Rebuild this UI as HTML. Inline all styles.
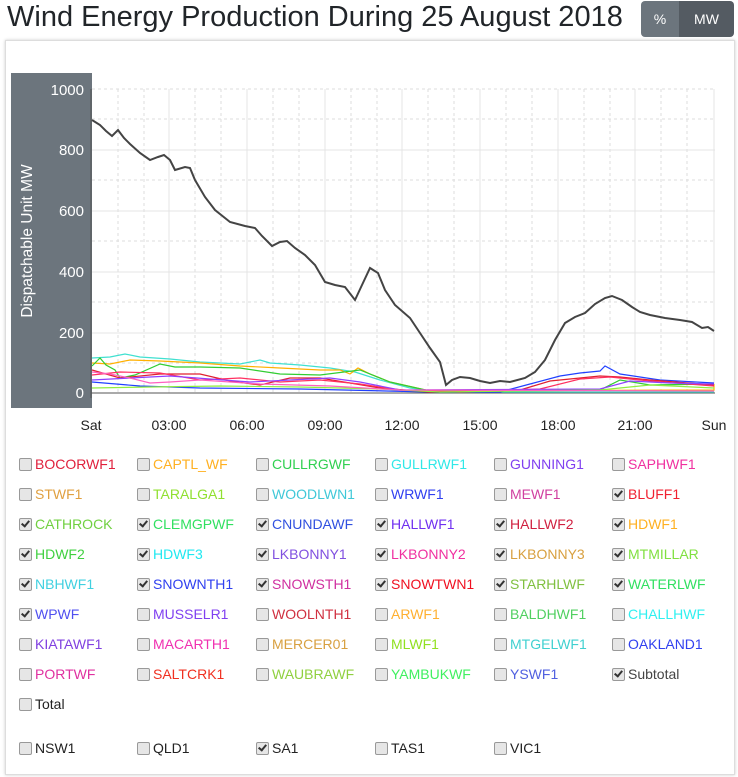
<!DOCTYPE html>
<html><head><meta charset="utf-8"><style>
body{margin:0;width:738px;height:777px;background:#fff;font-family:"Liberation Sans",sans-serif;position:relative;overflow:hidden}
h1{position:absolute;left:7px;top:1px;margin:0;font-size:29px;font-weight:normal;color:#212529;letter-spacing:0px}
.btn{position:absolute;top:1px;height:36px;line-height:36px;color:#fff;font-size:14px;text-align:center}
.card{position:absolute;left:5px;top:40px;width:728px;height:733px;border:1px solid #ddd;box-shadow:0 0 3px #ccc}
.it{position:absolute;font-size:14px;white-space:nowrap}
.cb{position:absolute;left:0;top:2px;width:11px;height:11px;border:1px solid #999;border-radius:2px;background:#e6e6e6}
.cb.c::after{content:"";position:absolute;left:3px;top:0px;width:3px;height:6px;border:solid #333;border-width:0 2px 2px 0;transform:rotate(40deg)}
.it span{position:absolute;left:16px;top:0}
</style></head><body>
<h1>Wind Energy Production During 25 August 2018</h1>
<div class="btn" style="left:641px;width:38px;background:#6c757d;border-radius:4px 0 0 4px">%</div>
<div class="btn" style="left:679px;width:55px;background:#545b62;border-radius:0 4px 4px 0">MW</div>
<div class="card"></div>
<svg style="position:absolute;left:0;top:0" width="738" height="440">
<rect x="11" y="73" width="81" height="335" fill="#6c757d"/>
<text transform="translate(32,241) rotate(-90)" text-anchor="middle" font-size="15.5" fill="#fff" font-family="Liberation Sans">Dispatchable Unit MW</text>
<g font-size="15" fill="#fff" text-anchor="end" font-family="Liberation Sans">
<text x="84" y="95">1000</text><text x="84" y="155">800</text><text x="84" y="216">600</text><text x="84" y="277">400</text><text x="84" y="338">200</text><text x="84" y="398">0</text></g>
<g stroke="#ddd" stroke-dasharray="3,3">
<line x1="92" x2="715" y1="89" y2="89"/><line x1="92" x2="715" y1="119" y2="119"/><line x1="92" x2="715" y1="180" y2="180"/><line x1="92" x2="715" y1="241" y2="241"/><line x1="92" x2="715" y1="302" y2="302"/><line x1="92" x2="715" y1="363" y2="363"/>
<line x1="118" x2="118" y1="89" y2="393"/><line x1="144" x2="144" y1="89" y2="393"/><line x1="195" x2="195" y1="89" y2="393"/><line x1="221" x2="221" y1="89" y2="393"/><line x1="273" x2="273" y1="89" y2="393"/><line x1="299" x2="299" y1="89" y2="393"/><line x1="351" x2="351" y1="89" y2="393"/><line x1="377" x2="377" y1="89" y2="393"/><line x1="428" x2="428" y1="89" y2="393"/><line x1="454" x2="454" y1="89" y2="393"/><line x1="506" x2="506" y1="89" y2="393"/><line x1="532" x2="532" y1="89" y2="393"/><line x1="584" x2="584" y1="89" y2="393"/><line x1="610" x2="610" y1="89" y2="393"/><line x1="661" x2="661" y1="89" y2="393"/><line x1="687" x2="687" y1="89" y2="393"/></g>
<g stroke="#e4e4e4">
<line x1="92" x2="715" y1="150" y2="150"/><line x1="92" x2="715" y1="211" y2="211"/><line x1="92" x2="715" y1="272" y2="272"/><line x1="92" x2="715" y1="333" y2="333"/>
<line x1="169" x2="169" y1="89" y2="393"/><line x1="247" x2="247" y1="89" y2="393"/><line x1="325" x2="325" y1="89" y2="393"/><line x1="402" x2="402" y1="89" y2="393"/><line x1="480" x2="480" y1="89" y2="393"/><line x1="558" x2="558" y1="89" y2="393"/><line x1="635" x2="635" y1="89" y2="393"/><line x1="714" x2="714" y1="89" y2="393"/></g>
<line x1="91" x2="91" y1="89" y2="398" stroke="#555"/><line x1="91" x2="715" y1="393" y2="393" stroke="#555"/>
<g fill="none" stroke-width="1.2">
<polyline stroke="#40e0d0" points="92,358 110,357 125,354 140,357 170,359 200,362 240,364 260,360 270,363 300,365 330,368 355,372 380,380 410,388 440,392 714,392"/>
<polyline stroke="#ffb000" points="92,363 110,364 130,360 160,361 200,363 240,366 280,368 320,370 340,370 350,374 358,368 370,374 390,382 430,391 714,390 714,384"/>
<polyline stroke="#32cd32" points="92,366 100,358 106,365 115,370 120,378 135,375 160,364 175,367 200,367 240,368 280,374 320,375 360,370 390,382 430,391 600,390 620,380 650,385 714,384"/>
<polyline stroke="#2040ff" points="92,382 140,386 200,388 300,389 430,392 500,392 530,384 560,376 580,373 600,371 605,366 620,374 660,380 714,383"/>
<polyline stroke="#e02030" points="92,370 120,378 160,374 200,374 230,381 260,385 290,378 320,378 350,383 380,388 430,392 520,390 550,381 580,378 600,376 620,377 650,380 714,385"/>
<polyline stroke="#ff3060" points="92,375 120,372 160,373 200,380 240,378 280,382 320,380 360,384 400,390 460,392 540,389 580,379 610,377 650,381 714,386"/>
<polyline stroke="#9040ff" points="92,380 130,378 170,376 210,379 250,382 290,380 330,378 360,382 400,390 600,389 630,381 670,383 714,384"/>
<polyline stroke="#90ee40" points="92,388 150,387 220,386 300,387 380,389 440,392 600,390 650,385 714,388"/>
<polyline stroke="#ff60c0" points="92,372 110,374 130,378 150,383 170,382 200,380 260,384 330,386 400,390 714,391"/>
</g>
<polyline fill="none" stroke="#444" stroke-width="2" points="92,120 100,125 106,131 112,136 118,130 124,138 130,144 140,153 150,160 158,157 164,155 170,160 175,170 185,167 190,168 195,180 205,197 215,210 230,222 245,226 255,228 262,236 272,246 280,242 287,241 295,248 305,255 315,265 325,282 335,285 345,287 355,300 362,285 370,268 378,273 385,290 395,305 410,318 420,333 430,348 440,362 446,385 452,380 460,377 470,378 480,381 490,383 500,381 510,382 525,378 535,372 545,360 555,340 565,323 575,317 585,313 595,304 605,298 612,296 622,300 632,307 640,312 650,315 665,318 680,320 692,322 702,328 708,327 714,331"/>
<g font-size="14" fill="#222" text-anchor="middle" font-family="Liberation Sans">
<text x="91" y="430">Sat</text><text x="169" y="430">03:00</text><text x="247" y="430">06:00</text><text x="325" y="430">09:00</text><text x="402" y="430">12:00</text><text x="480" y="430">15:00</text><text x="558" y="430">18:00</text><text x="635" y="430">21:00</text><text x="714" y="430">Sun</text></g>
</svg>
<div class="it" style="left:19px;top:456px"><div class="cb"></div><span style="color:#e0203c">BOCORWF1</span></div>
<div class="it" style="left:137px;top:456px"><div class="cb"></div><span style="color:#ffb020">CAPTL_WF</span></div>
<div class="it" style="left:256px;top:456px"><div class="cb"></div><span style="color:#30d050">CULLRGWF</span></div>
<div class="it" style="left:375px;top:456px"><div class="cb"></div><span style="color:#30e8e8">GULLRWF1</span></div>
<div class="it" style="left:494px;top:456px"><div class="cb"></div><span style="color:#8040f0">GUNNING1</span></div>
<div class="it" style="left:612px;top:456px"><div class="cb"></div><span style="color:#f030a0">SAPHWF1</span></div>
<div class="it" style="left:19px;top:486px"><div class="cb"></div><span style="color:#e0a040">STWF1</span></div>
<div class="it" style="left:137px;top:486px"><div class="cb"></div><span style="color:#90e030">TARALGA1</span></div>
<div class="it" style="left:256px;top:486px"><div class="cb"></div><span style="color:#40c8d8">WOODLWN1</span></div>
<div class="it" style="left:375px;top:486px"><div class="cb"></div><span style="color:#3040f0">WRWF1</span></div>
<div class="it" style="left:494px;top:486px"><div class="cb"></div><span style="color:#d040a0">MEWF1</span></div>
<div class="it" style="left:612px;top:486px"><div class="cb c"></div><span style="color:#f02030">BLUFF1</span></div>
<div class="it" style="left:19px;top:516px"><div class="cb c"></div><span style="color:#70d040">CATHROCK</span></div>
<div class="it" style="left:137px;top:516px"><div class="cb c"></div><span style="color:#30e060">CLEMGPWF</span></div>
<div class="it" style="left:256px;top:516px"><div class="cb c"></div><span style="color:#3050e0">CNUNDAWF</span></div>
<div class="it" style="left:375px;top:516px"><div class="cb c"></div><span style="color:#7030f0">HALLWF1</span></div>
<div class="it" style="left:494px;top:516px"><div class="cb c"></div><span style="color:#d02040">HALLWF2</span></div>
<div class="it" style="left:612px;top:516px"><div class="cb c"></div><span style="color:#ffb020">HDWF1</span></div>
<div class="it" style="left:19px;top:546px"><div class="cb c"></div><span style="color:#40d040">HDWF2</span></div>
<div class="it" style="left:137px;top:546px"><div class="cb c"></div><span style="color:#20e8f0">HDWF3</span></div>
<div class="it" style="left:256px;top:546px"><div class="cb c"></div><span style="color:#8050e0">LKBONNY1</span></div>
<div class="it" style="left:375px;top:546px"><div class="cb c"></div><span style="color:#f030a0">LKBONNY2</span></div>
<div class="it" style="left:494px;top:546px"><div class="cb c"></div><span style="color:#d8a040">LKBONNY3</span></div>
<div class="it" style="left:612px;top:546px"><div class="cb c"></div><span style="color:#80e040">MTMILLAR</span></div>
<div class="it" style="left:19px;top:576px"><div class="cb c"></div><span style="color:#40d0e0">NBHWF1</span></div>
<div class="it" style="left:137px;top:576px"><div class="cb c"></div><span style="color:#3040f0">SNOWNTH1</span></div>
<div class="it" style="left:256px;top:576px"><div class="cb c"></div><span style="color:#d030a0">SNOWSTH1</span></div>
<div class="it" style="left:375px;top:576px"><div class="cb c"></div><span style="color:#f01020">SNOWTWN1</span></div>
<div class="it" style="left:494px;top:576px"><div class="cb c"></div><span style="color:#80c040">STARHLWF</span></div>
<div class="it" style="left:612px;top:576px"><div class="cb c"></div><span style="color:#30e060">WATERLWF</span></div>
<div class="it" style="left:19px;top:606px"><div class="cb c"></div><span style="color:#5050f0">WPWF</span></div>
<div class="it" style="left:137px;top:606px"><div class="cb"></div><span style="color:#8040f0">MUSSELR1</span></div>
<div class="it" style="left:256px;top:606px"><div class="cb"></div><span style="color:#d03040">WOOLNTH1</span></div>
<div class="it" style="left:375px;top:606px"><div class="cb"></div><span style="color:#ffb030">ARWF1</span></div>
<div class="it" style="left:494px;top:606px"><div class="cb"></div><span style="color:#50d060">BALDHWF1</span></div>
<div class="it" style="left:612px;top:606px"><div class="cb"></div><span style="color:#30f0f0">CHALLHWF</span></div>
<div class="it" style="left:19px;top:636px"><div class="cb"></div><span style="color:#8040e0">KIATAWF1</span></div>
<div class="it" style="left:137px;top:636px"><div class="cb"></div><span style="color:#f030b0">MACARTH1</span></div>
<div class="it" style="left:256px;top:636px"><div class="cb"></div><span style="color:#d8a040">MERCER01</span></div>
<div class="it" style="left:375px;top:636px"><div class="cb"></div><span style="color:#90e020">MLWF1</span></div>
<div class="it" style="left:494px;top:636px"><div class="cb"></div><span style="color:#40d0d0">MTGELWF1</span></div>
<div class="it" style="left:612px;top:636px"><div class="cb"></div><span style="color:#3040f0">OAKLAND1</span></div>
<div class="it" style="left:19px;top:666px"><div class="cb"></div><span style="color:#e030a0">PORTWF</span></div>
<div class="it" style="left:137px;top:666px"><div class="cb"></div><span style="color:#f03020">SALTCRK1</span></div>
<div class="it" style="left:256px;top:666px"><div class="cb"></div><span style="color:#90d040">WAUBRAWF</span></div>
<div class="it" style="left:375px;top:666px"><div class="cb"></div><span style="color:#40f060">YAMBUKWF</span></div>
<div class="it" style="left:494px;top:666px"><div class="cb"></div><span style="color:#5060e0">YSWF1</span></div>
<div class="it" style="left:612px;top:666px"><div class="cb c"></div><span style="color:#444">Subtotal</span></div>
<div class="it" style="left:19px;top:696px"><div class="cb"></div><span style="color:#222">Total</span></div>
<div class="it" style="left:19px;top:740px"><div class="cb"></div><span style="color:#222">NSW1</span></div>
<div class="it" style="left:137px;top:740px"><div class="cb"></div><span style="color:#222">QLD1</span></div>
<div class="it" style="left:256px;top:740px"><div class="cb c"></div><span style="color:#222">SA1</span></div>
<div class="it" style="left:375px;top:740px"><div class="cb"></div><span style="color:#222">TAS1</span></div>
<div class="it" style="left:494px;top:740px"><div class="cb"></div><span style="color:#222">VIC1</span></div>
</body></html>
